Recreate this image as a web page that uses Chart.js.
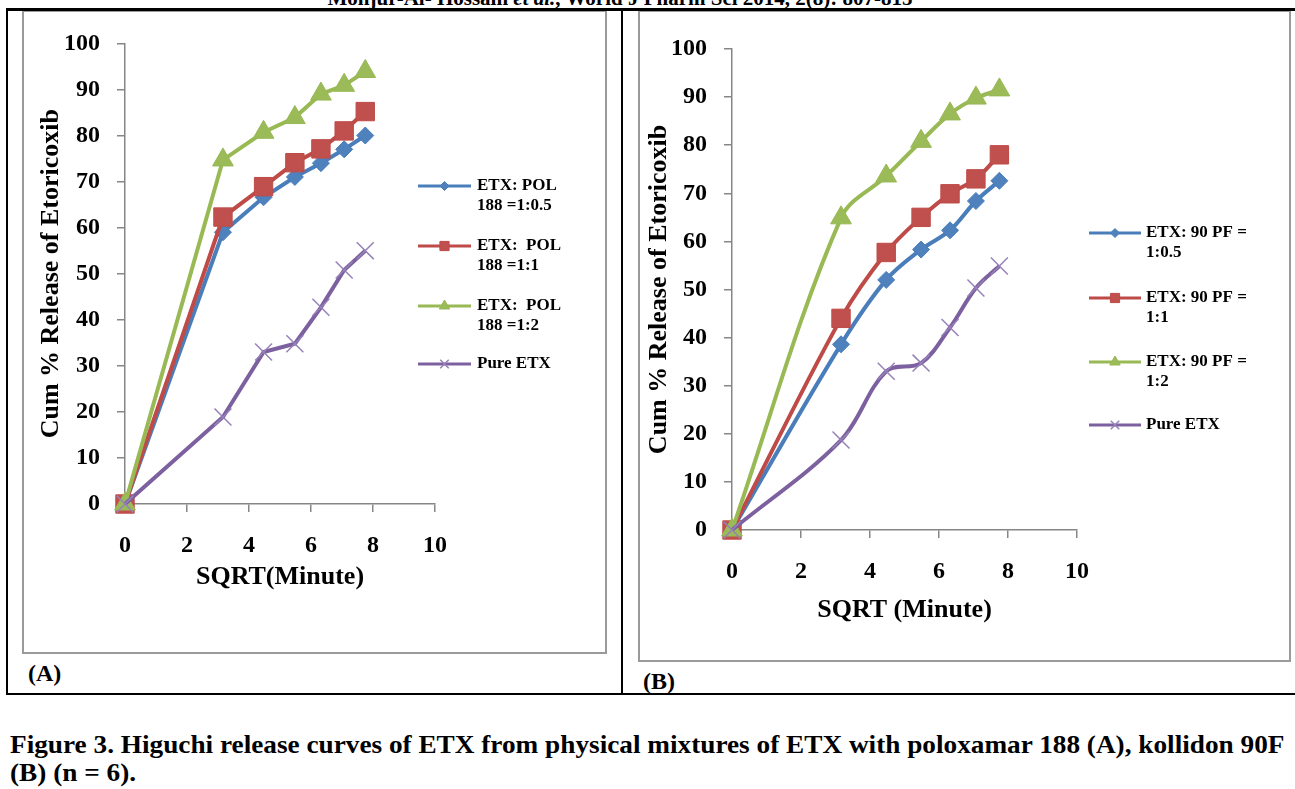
<!DOCTYPE html>
<html><head><meta charset="utf-8">
<script src="https://cdn.jsdelivr.net/npm/chart.js@4.4.1/dist/chart.umd.min.js"></script>
<style>
html,body{margin:0;padding:0;background:#fff;}
body{width:1295px;height:789px;overflow:hidden;position:relative;font-family:"Liberation Serif","Times New Roman",serif;color:#000;}
.blk{position:absolute;background:#000;}
.frame{position:absolute;border:2px solid #9a9a9a;}
.frame canvas{display:block;}
.lbl{position:absolute;font-weight:bold;font-size:24px;line-height:24px;white-space:nowrap;}
</style></head><body>
<div class="lbl" style="left:0;width:1240px;text-align:center;top:-12px;font-size:21px;line-height:20px;">Monjur-Al- Hossain <i>et al.</i>, World J Pharm Sci 2014, 2(8): 807-815</div>
<div class="frame" style="left:22px;top:10px;width:581px;height:640px"><canvas id="cA" width="581" height="640"></canvas></div>
<div class="frame" style="left:638px;top:10px;width:649px;height:648px"><canvas id="cB" width="649" height="648"></canvas></div>
<div class="blk" style="left:6px;top:8px;width:1289px;height:3px"></div>
<div class="blk" style="left:6px;top:8px;width:2px;height:687px"></div>
<div class="blk" style="left:621px;top:8px;width:2px;height:687px"></div>
<div class="blk" style="left:6px;top:693px;width:1289px;height:2px"></div>
<div class="lbl" style="left:28px;top:661px;">(A)</div>
<div class="lbl" style="left:643px;top:669px;">(B)</div>
<div class="lbl" style="left:10px;top:731px;font-size:25px;line-height:28px;transform:scaleX(1.09);transform-origin:0 0;">Figure 3. Higuchi release curves of ETX from physical mixtures of ETX with poloxamar 188 (A), kollidon 90F<br>(B) (n = 6).</div>
<script>
// ---- data ----
const sqrtTime = [0, 3.16, 4.47, 5.48, 6.32, 7.07, 7.75];
const polA_05 = [0, 59, 66.6, 71, 74, 77, 80];
const polA_1  = [0, 62.3, 68.9, 74.1, 77.1, 81, 85.2];
const polA_2  = [0, 74.7, 80.7, 83.9, 89, 90.9, 93.9];
const pureA   = [0, 18.9, 33, 34.8, 42.7, 50.8, 55];
const pfB_05  = [0, 38.6, 52, 58.3, 62.3, 68.4, 72.6];
const pfB_1   = [0, 44, 57.7, 65, 69.9, 73, 78];
const pfB_2   = [0, 64.9, 73.6, 80.8, 86.5, 89.8, 91.5];
const pureB   = [0, 18.7, 33, 34.7, 42.1, 50.3, 54.9];
const legendA = [["ETX: POL","188 =1:0.5"],["ETX:  POL","188 =1:1"],["ETX:  POL","188 =1:2"],["Pure ETX"]];
const legendB = [["ETX: 90 PF =","1:0.5"],["ETX: 90 PF =","1:1"],["ETX: 90 PF =","1:2"],["Pure ETX"]];
const yTitle = "Cum % Release of Etoricoxib";
const xTitleA = "SQRT(Minute)";
const xTitleB = "SQRT (Minute)";
const xTickMin = 0, xTickMax = 10, xTickStep = 2;
const yTickMin = 0, yTickMax = 100, yTickStep = 10;

const FAM = '"Liberation Serif","Times New Roman",serif';
const styles = [
  {line:'#4A7EBB', fill:'#4F81BD', edge:'#4A7EBB', shape:'rectRot', r:8.5, lr:4.5, bw:1},
  {line:'#BE4B48', fill:'#C0504D', edge:'#BE4B48', shape:'rect', r:13, lr:6.5, bw:1},
  {line:'#98B954', fill:'#9BBB59', edge:'#98B954', shape:'triangle', r:12, lr:6, bw:1},
  {line:'#7D60A0', fill:'#8B74AE', edge:'#9582B8', shape:'crossRot', r:12, lr:6, bw:1.5}
];

function pts(vals){ return sqrtTime.map((x,i)=>({x:x, y:vals[i]})); }

const customLegend = {
  id:'customLegend',
  afterDraw(chart, args, o){
    const ctx = chart.ctx;
    const labels = o.labels;
    ctx.save();
    chart.data.datasets.forEach((ds,i)=>{
      const st = styles[i];
      const y = o.ys[i];
      ctx.strokeStyle = ds.borderColor; ctx.lineWidth = 3; ctx.lineCap='butt';
      ctx.beginPath(); ctx.moveTo(o.x0,y); ctx.lineTo(o.x1,y); ctx.stroke();
      ctx.fillStyle = ds.pointBackgroundColor; ctx.strokeStyle = ds.pointBorderColor; ctx.lineWidth = st.bw;
      Chart.helpers.drawPoint(ctx, {pointStyle: st.shape, radius: st.lr, borderWidth: st.bw, rotation:0}, (o.x0+o.x1)/2, y);
      ctx.fillStyle = '#000'; ctx.font = 'bold 17px ' + FAM; ctx.textBaseline='middle'; ctx.textAlign='left';
      labels[i].forEach((t,j)=>ctx.fillText(t, o.tx, y + j*20));
    });
    ctx.restore();
  }
};

function makeChart(id, sets, labels, xTitle, cfg){
  const datasets = sets.map((vals,i)=>{
    const st = styles[i];
    return {
      label: labels[i].join(' '),
      data: pts(vals),
      borderColor: st.line, borderWidth: 4,
      pointStyle: st.shape, pointRadius: st.r,
      pointBackgroundColor: st.fill, pointBorderColor: st.edge, pointBorderWidth: st.bw,
      tension: cfg.tension, clip: false, order: 3 - i
    };
  });
  const tickFont = {family:FAM, size:24, weight:'bold'};
  const titleFont = {family:FAM, size:26, weight:'bold'};
  return new Chart(document.getElementById(id), {
    type:'line',
    data:{datasets},
    plugins:[customLegend],
    options:{
      responsive:false, animation:false, events:[],
      layout:{padding:cfg.pad},
      plugins:{legend:{display:false}, tooltip:{enabled:false}, customLegend:cfg.legend},
      scales:{
        x:{type:'linear', min:xTickMin, max:xTickMax,
           ticks:{stepSize:xTickStep, color:'#000', font:tickFont, padding:19, maxRotation:0},
           grid:{display:true, drawOnChartArea:false, drawTicks:true, tickLength:8, color:'#868686', lineWidth:1.5},
           border:{display:true, color:'#868686', width:1.5},
           title:{display:true, text:xTitle, color:'#000', font:titleFont, padding:{top:4,bottom:4}},
           afterFit(s){ s.height = cfg.xh; }},
        y:{type:'linear', min:yTickMin, max:yTickMax,
           ticks:{stepSize:yTickStep, color:'#000', font:tickFont, padding:17},
           grid:{display:true, drawOnChartArea:false, drawTicks:true, tickLength:8, color:'#868686', lineWidth:1.5},
           border:{display:true, color:'#868686', width:1.5},
           title:{display:true, text:yTitle, color:'#000', font:titleFont, padding:{top:cfg.ytp,bottom:4}},
           afterFit(s){ s.width = cfg.yw; }}
      }
    }
  });
}

makeChart('cA', [polA_05, polA_1, polA_2, pureA], legendA, xTitleA, {
  tension:0, pad:{left:0,right:170,top:30,bottom:55}, xh:93, yw:101, ytp:12,
  legend:{labels:legendA, ys:[174,234,294,352], x0:394, x1:447, tx:453}
});
makeChart('cB', [pfB_05, pfB_1, pfB_2, pureB], legendB, xTitleB, {
  tension:0.35, pad:{left:0,right:212,top:37,bottom:30}, xh:100, yw:92, ytp:4,
  legend:{labels:legendB, ys:[221,286,350,413], x0:449, x1:501, tx:506}
});
</script>
</body></html>
